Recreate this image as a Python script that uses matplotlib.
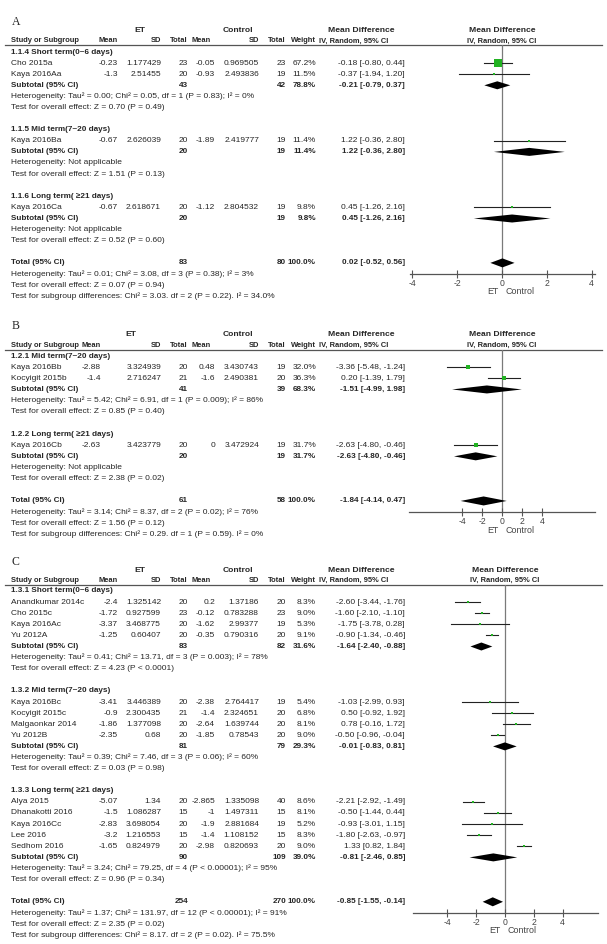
import matplotlib
matplotlib.use('Agg')
import matplotlib.pyplot as plt

plt.rcParams['font.family'] = ['Liberation Sans', 'DejaVu Sans']
plt.rcParams['axes.unicode_minus'] = False

W, H = 607, 944
fig = plt.figure(figsize=(W / 100, H / 100), dpi=100)
bg = fig.add_axes([0, 0, 1, 1])
bg.set_xlim(0, W)
bg.set_ylim(H, 0)
bg.axis('off')

FS = 6.0
FSB = 5.9
FSH = 5.4
FST = 6.1
TXT = '#262626'
GREEN = '#22b222'

# ---------------- Panel A data ----------------
A_groups = ['1.1.4 Short term(0~6 days)', '1.1.5 Mid term(7~20 days)', '1.1.6 Long term( \u226521 days)']
A_study = ['Cho 2015a', 'Kaya 2016Aa', 'Kaya 2016Ba', 'Kaya 2016Ca']
A_study_group = [0, 0, 1, 2]
A_et_mean = [-0.23, -1.3, -0.67, -0.67]
A_et_sd = [1.177429, 2.51455, 2.626039, 2.618671]
A_et_n = [23, 20, 20, 20]
A_c_mean = [-0.05, -0.93, -1.89, -1.12]
A_c_sd = [0.969505, 2.493836, 2.419777, 2.804532]
A_c_n = [23, 19, 19, 19]
A_weight = [67.2, 11.5, 11.4, 9.8]
A_md = [-0.18, -0.37, 1.22, 0.45]
A_lo = [-0.80, -1.94, -0.36, -1.26]
A_hi = [0.44, 1.20, 2.80, 2.16]
A_sub_et_n = [43, 20, 20]
A_sub_c_n = [42, 19, 19]
A_sub_weight = [78.8, 11.4, 9.8]
A_sub_md = [-0.21, 1.22, 0.45]
A_sub_lo = [-0.79, -0.36, -1.26]
A_sub_hi = [0.37, 2.80, 2.16]
A_sub_het = ['Heterogeneity: Tau\u00b2 = 0.00; Chi\u00b2 = 0.05, df = 1 (P = 0.83); I\u00b2 = 0%',
             'Heterogeneity: Not applicable', 'Heterogeneity: Not applicable']
A_sub_test = ['Test for overall effect: Z = 0.70 (P = 0.49)',
              'Test for overall effect: Z = 1.51 (P = 0.13)',
              'Test for overall effect: Z = 0.52 (P = 0.60)']
A_total = [83, 80, 100.0, 0.02, -0.52, 0.56]
A_total_text = ['Heterogeneity: Tau\u00b2 = 0.01; Chi\u00b2 = 3.08, df = 3 (P = 0.38); I\u00b2 = 3%',
                'Test for overall effect: Z = 0.07 (P = 0.94)',
                'Test for subgroup differences: Chi\u00b2 = 3.03. df = 2 (P = 0.22). I\u00b2 = 34.0%']

# ---------------- Panel B data ----------------
B_groups = ['1.2.1 Mid term(7~20 days)', '1.2.2 Long term( \u226521 days)']
B_study = ['Kaya 2016Bb', 'Kocyigit 2015b', 'Kaya 2016Cb']
B_study_group = [0, 0, 1]
B_et_mean = [-2.88, -1.4, -2.63]
B_et_sd = [3.324939, 2.716247, 3.423779]
B_et_n = [20, 21, 20]
B_c_mean = [0.48, -1.6, 0]
B_c_sd = [3.430743, 2.490381, 3.472924]
B_c_n = [19, 20, 19]
B_weight = [32.0, 36.3, 31.7]
B_md = [-3.36, 0.20, -2.63]
B_lo = [-5.48, -1.39, -4.80]
B_hi = [-1.24, 1.79, -0.46]
B_sub_et_n = [41, 20]
B_sub_c_n = [39, 19]
B_sub_weight = [68.3, 31.7]
B_sub_md = [-1.51, -2.63]
B_sub_lo = [-4.99, -4.80]
B_sub_hi = [1.98, -0.46]
B_sub_het = ['Heterogeneity: Tau\u00b2 = 5.42; Chi\u00b2 = 6.91, df = 1 (P = 0.009); I\u00b2 = 86%',
             'Heterogeneity: Not applicable']
B_sub_test = ['Test for overall effect: Z = 0.85 (P = 0.40)',
              'Test for overall effect: Z = 2.38 (P = 0.02)']
B_total = [61, 58, 100.0, -1.84, -4.14, 0.47]
B_total_text = ['Heterogeneity: Tau\u00b2 = 3.14; Chi\u00b2 = 8.37, df = 2 (P = 0.02); I\u00b2 = 76%',
                'Test for overall effect: Z = 1.56 (P = 0.12)',
                'Test for subgroup differences: Chi\u00b2 = 0.29. df = 1 (P = 0.59). I\u00b2 = 0%']

# ---------------- Panel C data ----------------
C_groups = ['1.3.1 Short term(0~6 days)', '1.3.2 Mid term(7~20 days)', '1.3.3 Long term( \u226521 days)']
C_study = ['Anandkumar 2014c', 'Cho 2015c', 'Kaya 2016Ac', 'Yu 2012A',
           'Kaya 2016Bc', 'Kocyigit 2015c', 'Malgaonkar 2014', 'Yu 2012B',
           'Alya 2015', 'Dhanakotti 2016', 'Kaya 2016Cc', 'Lee 2016', 'Sedhom 2016']
C_study_group = [0, 0, 0, 0, 1, 1, 1, 1, 2, 2, 2, 2, 2]
C_et_mean = [-2.4, -1.72, -3.37, -1.25, -3.41, -0.9, -1.86, -2.35, -5.07, -1.5, -2.83, -3.2, -1.65]
C_et_sd = [1.325142, 0.927599, 3.468775, 0.60407, 3.446389, 2.300435, 1.377098, 0.68,
           1.34, 1.086287, 3.698054, 1.216553, 0.824979]
C_et_n = [20, 23, 20, 20, 20, 21, 20, 20, 20, 15, 20, 15, 20]
C_c_mean = [0.2, -0.12, -1.62, -0.35, -2.38, -1.4, -2.64, -1.85, -2.865, -1, -1.9, -1.4, -2.98]
C_c_sd = [1.37186, 0.783288, 2.99377, 0.790316, 2.764417, 2.324651, 1.639744, 0.78543,
          1.335098, 1.497311, 2.881684, 1.108152, 0.820693]
C_c_n = [20, 23, 19, 20, 19, 20, 20, 20, 40, 15, 19, 15, 20]
C_weight = [8.3, 9.0, 5.3, 9.1, 5.4, 6.8, 8.1, 9.0, 8.6, 8.1, 5.2, 8.3, 9.0]
C_md = [-2.60, -1.60, -1.75, -0.90, -1.03, 0.50, 0.78, -0.50, -2.21, -0.50, -0.93, -1.80, 1.33]
C_lo = [-3.44, -2.10, -3.78, -1.34, -2.99, -0.92, -0.16, -0.96, -2.92, -1.44, -3.01, -2.63, 0.82]
C_hi = [-1.76, -1.10, 0.28, -0.46, 0.93, 1.92, 1.72, -0.04, -1.49, 0.44, 1.15, -0.97, 1.84]
C_sub_et_n = [83, 81, 90]
C_sub_c_n = [82, 79, 109]
C_sub_weight = [31.6, 29.3, 39.0]
C_sub_md = [-1.64, -0.01, -0.81]
C_sub_lo = [-2.40, -0.83, -2.46]
C_sub_hi = [-0.88, 0.81, 0.85]
C_sub_het = ['Heterogeneity: Tau\u00b2 = 0.41; Chi\u00b2 = 13.71, df = 3 (P = 0.003); I\u00b2 = 78%',
             'Heterogeneity: Tau\u00b2 = 0.39; Chi\u00b2 = 7.46, df = 3 (P = 0.06); I\u00b2 = 60%',
             'Heterogeneity: Tau\u00b2 = 3.24; Chi\u00b2 = 79.25, df = 4 (P < 0.00001); I\u00b2 = 95%']
C_sub_test = ['Test for overall effect: Z = 4.23 (P < 0.0001)',
              'Test for overall effect: Z = 0.03 (P = 0.98)',
              'Test for overall effect: Z = 0.96 (P = 0.34)']
C_total = [254, 270, 100.0, -0.85, -1.55, -0.14]
C_total_text = ['Heterogeneity: Tau\u00b2 = 1.37; Chi\u00b2 = 131.97, df = 12 (P < 0.00001); I\u00b2 = 91%',
                'Test for overall effect: Z = 2.35 (P = 0.02)',
                'Test for subgroup differences: Chi\u00b2 = 8.17. df = 2 (P = 0.02). I\u00b2 = 75.5%']

TICKS = [-4, -2, 0, 2, 4]


def fnum(v):
    s = repr(float(v))
    if s.endswith('.0'):
        s = s[:-2]
    return s


def ci_text(m, l, h):
    return f'{m:.2f} [{l:.2f}, {h:.2f}]'


def txt(x, y, s, ha='left', bold=False, size=None, color=TXT, **kw):
    if size is None:
        size = FSB if bold else FS
    bg.text(x, y, s, ha=ha, va='center', fontsize=size, color=color,
            fontweight='bold' if bold else 'normal', **kw)


def draw_panel(letter, P, L):
    r = L['r']
    row0 = L['row0']
    zero = L['zero']
    col_etm = L['col_etm']
    # labels / headers
    bg.text(12, L['label_y'], letter, fontfamily='Liberation Serif', fontsize=8.5,
            va='center', ha='left', color=TXT)
    txt((col_etm - 21 + 188) / 2 - 3, L['top_y'], 'ET', ha='center', bold=True, size=FST)
    txt(238, L['top_y'], 'Control', ha='center', bold=True, size=FST)
    txt(361, L['top_y'], 'Mean Difference', ha='center', bold=True, size=FST)
    txt(zero, L['top_y'], 'Mean Difference', ha='center', bold=True, size=FST)
    hy = L['head_y']
    txt(11, hy, 'Study or Subgroup', bold=True, size=FSH)
    txt(col_etm, hy, 'Mean', ha='right', bold=True, size=FSH)
    txt(161, hy, 'SD', ha='right', bold=True, size=FSH)
    txt(188, hy, 'Total', ha='right', bold=True, size=FSH)
    txt(192, hy, 'Mean', ha='left', bold=True, size=FSH)
    txt(259, hy, 'SD', ha='right', bold=True, size=FSH)
    txt(286, hy, 'Total', ha='right', bold=True, size=FSH)
    txt(316, hy, 'Weight', ha='right', bold=True, size=FSH)
    txt(319, hy, 'IV, Random, 95% CI', ha='left', bold=True, size=FSH)
    txt(zero, hy, 'IV, Random, 95% CI', ha='center', bold=True, size=FSH)
    bg.plot([5, 602], [L['line_y'], L['line_y']], color='#555555', lw=0.9)

    # forest axes: x in data units, y in pixel rows
    ngroups = len(P['groups'])
    nrows = 0
    for g in range(ngroups):
        nrows += 1 + P['study_group'].count(g) + 4
    total_row = nrows
    axis_y = row0 + (total_row + 1) * r
    left, right, top = L['ax_left'], L['ax_right'], L['line_y']
    ax = fig.add_axes([left / W, 1 - axis_y / H, (right - left) / W, (axis_y - top) / H])
    ax.set_xlim((left - zero) / L['scale'], (right - zero) / L['scale'])
    ax.set_ylim(axis_y, top)
    ax.patch.set_visible(False)
    for s in ['top', 'left', 'right']:
        ax.spines[s].set_visible(False)
    ax.spines['bottom'].set_color('#555555')
    ax.spines['bottom'].set_linewidth(0.9)
    ax.set_yticks([])
    ax.set_xticks(TICKS)
    ax.set_xticklabels([str(t) for t in TICKS])
    ax.tick_params(axis='x', direction='inout', length=6, width=0.8, color='#555555',
                   labelsize=6.2, labelcolor='#444444', pad=0.5)
    ax.axvline(0, color='#7a7a7a', lw=0.9, zorder=1)
    txt(zero - 4, axis_y + 18, 'ET', ha='right', color='#444444', size=6.4)
    txt(zero + 3, axis_y + 18, 'Control', ha='left', color='#444444', size=6.4)

    row = 0
    for g in range(ngroups):
        y = row0 + row * r
        txt(11, y, P['groups'][g], bold=True)
        row += 1
        for i, sg in enumerate(P['study_group']):
            if sg != g:
                continue
            y = row0 + row * r
            txt(11, y, P['study'][i])
            txt(col_etm, y, fnum(P['et_mean'][i]), ha='right')
            txt(161, y, fnum(P['et_sd'][i]), ha='right')
            txt(188, y, str(P['et_n'][i]), ha='right')
            txt(215, y, fnum(P['c_mean'][i]), ha='right')
            txt(259, y, fnum(P['c_sd'][i]), ha='right')
            txt(286, y, str(P['c_n'][i]), ha='right')
            txt(316, y, f"{P['weight'][i]:.1f}%", ha='right')
            txt(405, y, ci_text(P['md'][i], P['lo'][i], P['hi'][i]), ha='right')
            ax.plot([P['lo'][i], P['hi'][i]], [y, y], color='#222222', lw=0.8, clip_on=False, zorder=2)
            side = max(2.6, P['weight'][i] * 0.124)
            ax.plot([P['md'][i]], [y], marker='s', ms=side * 0.72, color=GREEN, mec=GREEN,
                    mew=0, ls='none', clip_on=False, zorder=3)
            row += 1
        y = row0 + row * r
        txt(11, y, 'Subtotal (95% CI)', bold=True)
        txt(188, y, str(P['sub_et_n'][g]), ha='right', bold=True)
        txt(286, y, str(P['sub_c_n'][g]), ha='right', bold=True)
        txt(316, y, f"{P['sub_weight'][g]:.1f}%", ha='right', bold=True)
        txt(405, y, ci_text(P['sub_md'][g], P['sub_lo'][g], P['sub_hi'][g]), ha='right', bold=True)
        m, lo_, hi_ = P['sub_md'][g], P['sub_lo'][g], P['sub_hi'][g]
        ax.fill([lo_, m, hi_, m], [y, y - 4, y, y + 4], color='black', lw=0, clip_on=False, zorder=3)
        row += 1
        txt(11, row0 + row * r, P['sub_het'][g])
        row += 1
        txt(11, row0 + row * r, P['sub_test'][g])
        row += 2
    # total
    y = row0 + row * r
    tn_e, tn_c, tw, tm, tl, th = P['total']
    txt(11, y, 'Total (95% CI)', bold=True)
    txt(188, y, str(tn_e), ha='right', bold=True)
    txt(286, y, str(tn_c), ha='right', bold=True)
    txt(316, y, f'{tw:.1f}%', ha='right', bold=True)
    txt(405, y, ci_text(tm, tl, th), ha='right', bold=True)
    ax.fill([tl, tm, th, tm], [y, y - 4.5, y, y + 4.5], color='black', lw=0, clip_on=False, zorder=3)
    for k, s in enumerate(P['total_text']):
        txt(11, y + (k + 1) * r, s)


def pack(prefix):
    g = globals()
    keys = ['groups', 'study', 'study_group', 'et_mean', 'et_sd', 'et_n', 'c_mean', 'c_sd', 'c_n',
            'weight', 'md', 'lo', 'hi', 'sub_et_n', 'sub_c_n', 'sub_weight', 'sub_md', 'sub_lo',
            'sub_hi', 'sub_het', 'sub_test', 'total', 'total_text']
    return {k: g[prefix + '_' + k] for k in keys}


draw_panel('A', pack('A'), dict(label_y=22, top_y=30, head_y=41, line_y=45, row0=52, r=11.1,
                                col_etm=118, zero=502, scale=22.4, ax_left=410, ax_right=595))
draw_panel('B', pack('B'), dict(label_y=326, top_y=335, head_y=345.5, line_y=349.5, row0=356, r=11.15,
                                col_etm=101, zero=502, scale=10.0, ax_left=409, ax_right=595))
draw_panel('C', pack('C'), dict(label_y=562, top_y=570, head_y=580, line_y=584.5, row0=591, r=11.1,
                                col_etm=118, zero=505, scale=14.4, ax_left=413, ax_right=598))

fig.savefig('out.png', dpi=100, facecolor='white')
